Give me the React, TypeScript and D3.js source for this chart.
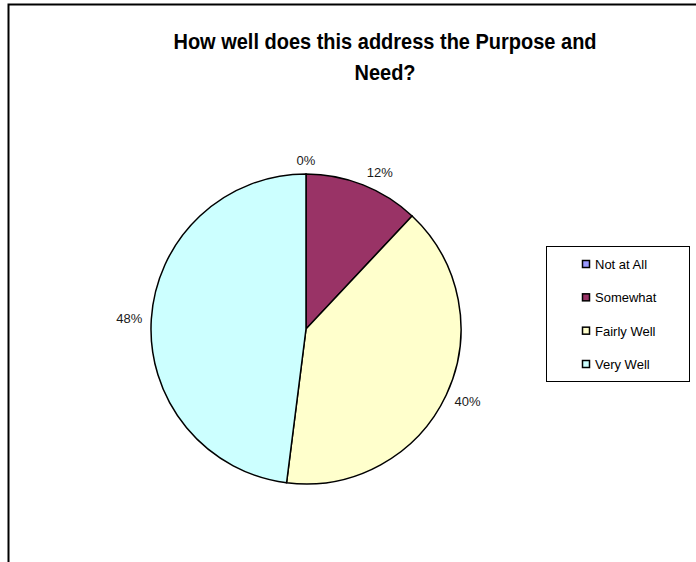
import React from "react";
import * as d3 from "d3";

const categories = ["Not at All", "Somewhat", "Fairly Well", "Very Well"];
const values = [0, 12, 40, 48];
const colors = ["#9999FF", "#993366", "#FFFFCC", "#CCFFFF"];
const titleLines = ["How well does this address the Purpose and", "Need?"];

export default function App() {
  const W = 696, H = 562;
  const cx = 306, cy = 329, r = 155;
  const pie = d3.pie<number>().sort(null).value((d) => d)(values);
  const arc = d3.arc<d3.PieArcDatum<number>>().innerRadius(0).outerRadius(r);
  const font = "Arial, 'Liberation Sans', sans-serif";
  const legendX = 546, legendY = 246, legendW = 143, legendH = 135;
  const rowY = d3.scalePoint<string>().domain(categories).range([264, 364]);
  const gap = 8.5, lw = 27, lh = 11;
  return (
    <svg width={W} height={H} style={{ position: "absolute", left: 0, top: 0 }} fontFamily={font}>
      <rect x={0} y={0} width={W} height={H} fill="#fff" />
      <path d={`M8.5,${H} V4.5 H${W}`} fill="none" stroke="#000" strokeWidth={2} />
      <g transform="translate(385,0) scale(1,1.12)">
        {titleLines.map((t, i) => (
          <text key={i} x={0} y={(49 + i * 31) / 1.12} textAnchor="middle" fontWeight="bold" fontSize={20} fill="#000">
            {t}
          </text>
        ))}
      </g>
      <g transform={`translate(${cx},${cy})`}>
        {pie.map((p, i) => (
          <path key={i} d={arc(p) || ""} fill={colors[i]} stroke="#000" strokeWidth={1.5} />
        ))}
        {pie.map((p, i) => {
          const a = (p.startAngle + p.endAngle) / 2;
          const dx = Math.sin(a), dy = -Math.cos(a);
          const sx = Math.abs(dx) < 1e-6 ? 0 : Math.sign(dx);
          const x = dx * (r + gap) + sx * lw / 2;
          const y = dy * (r + gap) + dy * lh / 2;
          return (
            <text key={"l" + i} x={x} y={y + 5} textAnchor="middle" fontSize={13} fill="#1a1a1a">
              {values[i]}%
            </text>
          );
        })}
      </g>
      <rect x={legendX + 0.5} y={legendY + 0.5} width={legendW} height={legendH} fill="#fff" stroke="#000" strokeWidth={1} />
      {categories.map((c, i) => {
        const y = rowY(c) as number;
        return (
          <g key={c}>
            <rect x={legendX + 36.5} y={y - 3.5} width={7} height={7} fill={colors[i]} stroke="#000" strokeWidth={1.5} />
            <text x={legendX + 49} y={y + 5} fontSize={13} fill="#000">{c}</text>
          </g>
        );
      })}
    </svg>
  );
}
